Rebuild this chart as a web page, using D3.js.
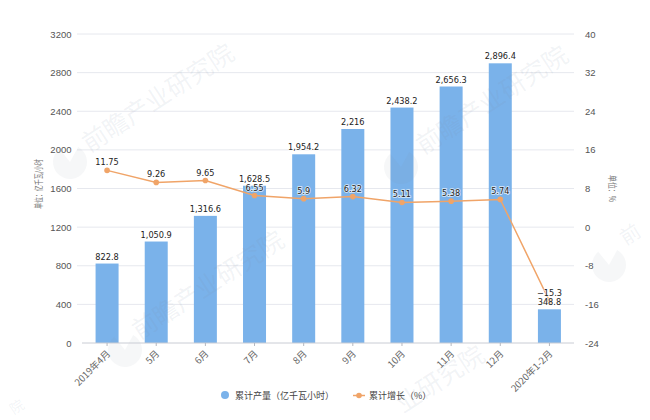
<!DOCTYPE html>
<html>
<head>
<meta charset="utf-8">
<script src="https://cdn.jsdelivr.net/npm/d3@7/dist/d3.min.js"></script>
<style>
  html, body { margin: 0; padding: 0; background: #fff; }
  svg { display: block; font-family: "DejaVu Sans", sans-serif; }
</style>
</head>
<body>
<div id="chart"></div>
<script>
const categories = ["2019年4月", "5月", "6月", "7月", "8月", "9月", "10月", "11月", "12月", "2020年1-2月"];
const output = [822.8, 1050.9, 1316.6, 1628.5, 1954.2, 2216, 2438.2, 2656.3, 2896.4, 348.8];
const growth = [11.75, 9.26, 9.65, 6.55, 5.9, 6.32, 5.11, 5.38, 5.74, -15.3];
const leftTicks = [0, 400, 800, 1200, 1600, 2000, 2400, 2800, 3200];
const rightTicks = [-24, -16, -8, 0, 8, 16, 24, 32, 40];
const outputName = "累计产量（亿千瓦小时）";
const growthName = "累计增长（%）";
const leftUnit = "单位：亿千瓦/小时";
const rightUnit = "单位：%";
const watermark = "前瞻产业研究院";

const width = 650, height = 420;
const cjk = '"Noto Sans CJK SC", sans-serif';

const svg = d3.select("#chart").append("svg")
    .attr("width", width)
    .attr("height", height);

const x = d3.scaleBand().domain(categories).range([82.5, 574]);
const yLeft = d3.scaleLinear().domain([0, 3200]).range([343, 34]);
const yRight = d3.scaleLinear().domain([-24, 40]).range([343, 34]);

// grid
svg.append("g").selectAll("line")
    .data(leftTicks.slice(1))
    .join("line")
    .attr("x1", 77).attr("x2", 574)
    .attr("y1", d => yLeft(d)).attr("y2", d => yLeft(d))
    .attr("stroke", "#e6e8ee");

// bars
const barWidth = 23;
svg.append("g").selectAll("rect")
    .data(output)
    .join("rect")
    .attr("x", (d, i) => x(categories[i]) + x.bandwidth() / 2 - barWidth / 2)
    .attr("y", d => yLeft(d))
    .attr("width", barWidth)
    .attr("height", d => yLeft(0) - yLeft(d))
    .attr("fill", "#7ab2ea");

// watermark sits over the bars, very faint
function addWatermark(str, px, py, size, anchor) {
    svg.append("text")
        .attr("transform", `translate(${px},${py}) rotate(-33)`)
        .attr("text-anchor", anchor)
        .attr("dy", "0.35em")
        .attr("font-family", cjk)
        .attr("font-size", size)
        .attr("fill", "#7d8ca0")
        .attr("fill-opacity", 0.1)
        .text(str);
}
addWatermark(watermark, 158, 98, 25, "middle");
addWatermark(watermark, 208, 285, 25, "middle");
addWatermark(watermark, 492, 100, 25, "middle");
// only part of these show inside the picture
addWatermark(watermark.slice(3), 482, 352, 25, "end");
addWatermark(watermark.slice(0, 1), 622, 240, 20, "start");
addWatermark(watermark.slice(6), 17, 407, 14, "middle");

// logo blobs next to the watermark
const logoArc = d3.arc().innerRadius(0).outerRadius(17).startAngle(0.5).endAngle(5.6);
[[70, 162], [125, 350], [401, 167], [609, 265]].forEach(p => {
    svg.append("path")
        .attr("transform", `translate(${p[0]},${p[1]})`)
        .attr("d", logoArc)
        .attr("fill", "#7d8ca0")
        .attr("fill-opacity", 0.07);
});

// axis line and ticks
svg.append("line")
    .attr("x1", 82).attr("x2", 574)
    .attr("y1", yLeft(0)).attr("y2", yLeft(0))
    .attr("stroke", "#c9ccd4");

const xAxis = d3.axisBottom(x).tickSize(3).tickSizeOuter(0);
const gx = svg.append("g")
    .attr("transform", `translate(0,${yLeft(0)})`)
    .call(xAxis);
gx.select(".domain").remove();
gx.selectAll(".tick line").attr("stroke", "#b5b8c0");
gx.selectAll("text")
    .attr("font-family", cjk)
    .attr("font-size", 9.5)
    .attr("fill", "#666")
    .attr("text-anchor", "end")
    .attr("x", 0).attr("y", 0)
    .attr("dy", "0.35em")
    .attr("transform", "translate(1.5,9) rotate(-45)");

const gl = svg.append("g")
    .attr("transform", "translate(77,0)")
    .call(d3.axisLeft(yLeft).tickValues(leftTicks).tickSize(0).tickPadding(5.5).tickFormat(d => d));
gl.select(".domain").remove();
gl.selectAll("text").attr("font-size", 9.5).attr("fill", "#555");

const gr = svg.append("g")
    .attr("transform", "translate(574,0)")
    .call(d3.axisRight(yRight).tickValues(rightTicks).tickSize(0).tickPadding(11).tickFormat(d => d));
gr.select(".domain").remove();
gr.selectAll("text").attr("font-size", 9.5).attr("fill", "#555");

// unit labels, squeezed along their length like the original
svg.append("text")
    .attr("transform", "translate(42,184) rotate(-90)")
    .attr("text-anchor", "middle")
    .attr("font-family", cjk)
    .attr("font-size", 9)
    .attr("textLength", 50)
    .attr("lengthAdjust", "spacingAndGlyphs")
    .attr("fill", "#777")
    .text(leftUnit);

svg.append("text")
    .attr("transform", "translate(608.5,188.5) rotate(90)")
    .attr("text-anchor", "middle")
    .attr("font-family", cjk)
    .attr("font-size", 9)
    .attr("textLength", 27)
    .attr("lengthAdjust", "spacingAndGlyphs")
    .attr("fill", "#777")
    .text(rightUnit);

// growth line
const line = d3.line()
    .x((d, i) => x(categories[i]) + x.bandwidth() / 2)
    .y(d => yRight(d));

svg.append("path")
    .datum(growth)
    .attr("d", line)
    .attr("fill", "none")
    .attr("stroke", "#f0a468")
    .attr("stroke-width", 1.5);

svg.append("g").selectAll("circle")
    .data(growth)
    .join("circle")
    .attr("cx", (d, i) => x(categories[i]) + x.bandwidth() / 2)
    .attr("cy", d => yRight(d))
    .attr("r", 2.8)
    .attr("fill", "#f0a468");

// value labels
function addLabels(values, yScale, fmt, gap) {
    svg.append("g").selectAll("text")
        .data(values)
        .join("text")
        .attr("x", (d, i) => x(categories[i]) + x.bandwidth() / 2)
        .attr("y", d => yScale(d) - gap)
        .attr("text-anchor", "middle")
        .attr("font-size", 8.2)
        .attr("fill", "#222")
        .attr("stroke", "#fff")
        .attr("stroke-width", 1.6)
        .attr("stroke-opacity", 0.75)
        .attr("paint-order", "stroke")
        .text(fmt);
}
addLabels(output, yLeft, d => d3.format(",")(d), 4);
addLabels(growth, yRight, d => String(d).replace("-", "−"), 5);

// legend
const legend = svg.append("g").attr("font-family", cjk).attr("font-size", 9).attr("fill", "#444");
legend.append("circle").attr("cx", 225).attr("cy", 395).attr("r", 4).attr("fill", "#7ab2ea");
legend.append("text").attr("x", 235).attr("y", 398.5).text(outputName);
legend.append("line").attr("x1", 353).attr("x2", 365).attr("y1", 395.5).attr("y2", 395.5)
    .attr("stroke", "#f0a468").attr("stroke-width", 1.5);
legend.append("circle").attr("cx", 359).attr("cy", 395.5).attr("r", 2.8).attr("fill", "#f0a468");
legend.append("text").attr("x", 369).attr("y", 398.5).text(growthName);
</script>
</body>
</html>
